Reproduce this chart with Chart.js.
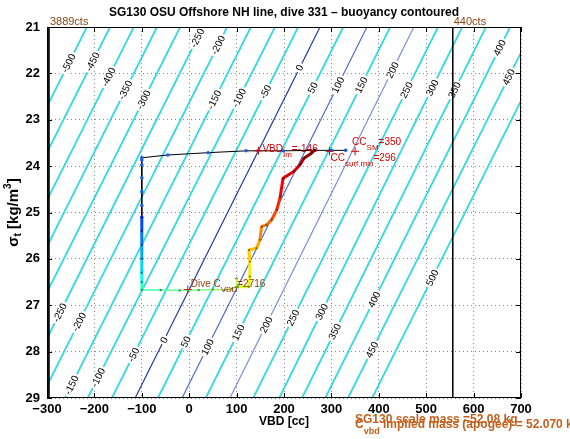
<!DOCTYPE html>
<html>
<head>
<meta charset="utf-8">
<title>SG130 dive 331 buoyancy</title>
<script src="https://cdn.jsdelivr.net/npm/chart.js@4.4.1/dist/chart.umd.min.js"></script>
<style>
  body { margin: 0; background: #fff; }
  canvas { display: block; }
</style>
</head>
<body>
<canvas id="buoyancyChart" width="570" height="439"></canvas>
<script>
// Buoyancy contour levels [g] and the VBD [cc] where each crosses sigma_t = 21 (top) and 29 (bottom)
const contourLevels = [-500, -450, -400, -350, -300, -250, -200, -150, -100, -50, 0, 50, 100, 150, 200, 250, 300, 350, 400, 450, 500];
const contourTopVbd = [-216, -167, -117, -68, -19, 29, 80, 130, 181, 230, 276, 325, 375, 424, 474, 525, 576, 626, 677, 727, 778];
const contourBottomVbd = [-608, -560, -509, -460, -412, -363, -313, -262, -214, -163, -114, -66, -15, 35, 86, 135, 190, 238, 287, 335, 386];
// sigma_t where each contour carries its label (upper row / lower row, null = no label)
const labelSigmaUpper = [21.78, 21.75, 22.08, 22.36, 22.57, 21.24, 21.39, 22.57, 22.53, 22.40, 21.88, 22.31, 22.25, 22.25, 21.93, 22.36, 22.31, 22.36, 21.45, 22.08, null];
const labelSigmaLower = [null, null, null, null, null, 27.16, 27.36, 28.72, 28.56, 28.07, 27.75, 27.79, 27.90, 27.59, 27.42, 27.27, 27.14, 27.57, 26.88, 27.96, 26.41];

// Surface and start of the descent (thin black line with blue dots)
const surfaceVbd = [330, 300, 265, 198, 145, 120, 40, -45, -100, -100, -100, -100, -100, -100, -100];
const surfaceSigma = [23.66, 23.66, 23.66, 23.67, 23.67, 23.67, 23.71, 23.76, 23.82, 23.87, 23.97, 24.25, 24.55, 24.85, 25.10];

// Rest of the dive, coloured by time
const diveVbd = [-100, -100, -100, -100, -100, -100, -100, -60, -20, 20, 50, 75, 90, 100, 100, 103, 126, 128, 128, 126, 142, 149, 153, 163, 174, 185, 192, 198, 220, 234, 242, 258, 265];
const diveSigma = [25.10, 25.40, 25.70, 26.00, 26.30, 26.50, 26.67, 26.67, 26.68, 26.67, 26.66, 26.67, 26.65, 26.60, 26.42, 26.60, 26.60, 26.38, 26.06, 25.81, 25.77, 25.59, 25.30, 25.27, 25.16, 24.94, 24.66, 24.26, 24.12, 23.97, 23.83, 23.72, 23.65];
const diveMinutes = [40, 48, 56, 64, 72, 80, 88, 92, 95, 98, 101, 104, 106, 108, 110, 112, 114, 118, 124, 130, 132, 136, 142, 144, 147, 152, 158, 166, 170, 174, 178, 182, 186];

// VBD pump limits
const vbdLimits = [-296, 556];
const vbdLimitLabels = ['3889cts', '440cts'];

// Marked points: VBD_Im, CC_SM, CC_surf min, Dive C_VBD
const markerVbd = [146, 350, 296, -3];
const markerSigma = [23.67, 23.68, 23.68, 26.66];

const FONT = '"Liberation Sans", Arial, Helvetica, sans-serif';
Chart.defaults.font.family = FONT;

function jet(t) {
    const c = v => Math.round(255 * Math.max(0, Math.min(1, v)));
    const r = c(Math.min(4 * t - 1.5, -4 * t + 4.5));
    const g = c(Math.min(4 * t - 0.5, -4 * t + 3.5));
    const b = c(Math.min(4 * t + 0.5, -4 * t + 2.5));
    return [r, g, b];
}
const m0 = diveMinutes[0], m1 = diveMinutes[diveMinutes.length - 1];
const diveRgb = diveMinutes.map(m => jet(0.15 + 0.85 * (m - m0) / (m1 - m0)));
const diveColors = diveRgb.map(c => `rgb(${c[0]},${c[1]},${c[2]})`);
const diveDots = diveRgb.map(c => `rgb(${c[0] * 0.6 | 0},${c[1] * 0.6 | 0},${c[2] * 0.6 | 0})`);

function contourColor(level) {
    if (level === 0) return '#1f3c9c';
    if (level === 100) return '#4d6bd4';
    if (level === 200) return '#7d8ce0';
    return '#33d8e2';
}

const datasets = [];
contourLevels.forEach((lev, i) => {
    datasets.push({
        data: [{ x: contourTopVbd[i], y: 21 }, { x: contourBottomVbd[i], y: 29 }],
        borderColor: contourColor(lev),
        borderWidth: (lev === 0 || lev === 100 || lev === 200) ? 1.2 : 1.8,
        pointRadius: 0,
        clip: 0,
        order: 10
    });
});
vbdLimits.forEach(v => {
    datasets.push({
        data: [{ x: v, y: 21 }, { x: v, y: 29 }],
        borderColor: '#000',
        borderWidth: 1,
        pointRadius: 0,
        clip: 0,
        order: 8
    });
});
datasets.push({
    data: surfaceVbd.map((v, i) => ({ x: v, y: surfaceSigma[i] })),
    borderColor: '#000',
    borderWidth: 1,
    pointRadius: 1.8,
    pointBackgroundColor: '#1d5be0',
    pointBorderWidth: 0,
    order: 3
});
datasets.push({
    data: diveVbd.map((v, i) => ({ x: v, y: diveSigma[i] })),
    borderColor: diveColors[0],
    borderWidth: 3,
    segment: {
        borderColor: c => diveColors[c.p1DataIndex],
        borderWidth: c => (c.p0DataIndex >= 6 && c.p0DataIndex < 15) ? 1.6 : 3
    },
    pointRadius: 1.2,
    pointBackgroundColor: diveDots,
    pointBorderWidth: 0,
    order: 2
});
datasets.push({
    data: markerVbd.map((v, i) => ({ x: v, y: markerSigma[i] })),
    showLine: false,
    pointStyle: 'cross',
    pointRadius: 4,
    borderColor: ['#d40000', '#d40000', '#d40000', '#c21a1a'],
    borderWidth: 1,
    order: 1
});

function rich(ctx, parts, x, y, color, align) {
    let total = 0;
    parts.forEach(p => { ctx.font = p.font; p.w = ctx.measureText(p.t).width; total += p.w; });
    let cx = align === 'center' ? x - total / 2 : x;
    ctx.fillStyle = color;
    ctx.textAlign = 'left';
    ctx.textBaseline = 'alphabetic';
    parts.forEach(p => { ctx.font = p.font; ctx.fillText(p.t, cx, y + (p.dy || 0)); cx += p.w; });
}

const overlay = {
    id: 'overlay',
    afterDatasetDraw(chart, args) {
        if (args.index !== 0) return;
        // contour labels, drawn right after the contour lines
        const { ctx, chartArea: a, scales: { x, y } } = chart;
        ctx.save();
        ctx.beginPath();
        ctx.rect(a.left, a.top, a.width, a.height);
        ctx.clip();
        ctx.font = '10px ' + FONT;
        ctx.textAlign = 'center';
        ctx.textBaseline = 'middle';
        contourLevels.forEach((lev, i) => {
            const x1 = x.getPixelForValue(contourTopVbd[i]), y1 = y.getPixelForValue(21);
            const x2 = x.getPixelForValue(contourBottomVbd[i]), y2 = y.getPixelForValue(29);
            const ang = Math.atan2(y1 - y2, x1 - x2);
            [labelSigmaUpper[i], labelSigmaLower[i]].forEach(s => {
                if (s == null) return;
                const f = (s - 21) / 8;
                const v = contourTopVbd[i] + f * (contourBottomVbd[i] - contourTopVbd[i]);
                const px = x.getPixelForValue(v), py = y.getPixelForValue(s);
                const txt = String(lev);
                const w = ctx.measureText(txt).width;
                ctx.save();
                ctx.translate(px, py);
                ctx.rotate(ang);
                ctx.fillStyle = '#fff';
                ctx.fillRect(-w / 2 - 2, -4, w + 4, 8);
                ctx.fillStyle = '#000';
                ctx.fillText(txt, 0, 0.5);
                ctx.restore();
            });
        });
        ctx.restore();
    },
    afterDraw(chart) {
        const { ctx, chartArea: a, scales: { x, y } } = chart;
        ctx.save();
        ctx.strokeStyle = '#000';
        ctx.lineWidth = 1;
        ctx.strokeRect(a.left + 0.5, a.top + 0.5, a.width - 1, a.height - 1);
        ctx.beginPath();
        for (let v = -300; v <= 700; v += 100) {
            const px = Math.round(x.getPixelForValue(v)) + 0.5;
            ctx.moveTo(px, a.bottom); ctx.lineTo(px, a.bottom - 5);
            ctx.moveTo(px, a.top); ctx.lineTo(px, a.top + 5);
        }
        for (let s = 21; s <= 29; s++) {
            const py = Math.round(y.getPixelForValue(s)) + 0.5;
            ctx.moveTo(a.left, py); ctx.lineTo(a.left + 5, py);
            ctx.moveTo(a.right, py); ctx.lineTo(a.right - 5, py);
        }
        ctx.stroke();

        // title and axis titles
        const cx = (a.left + a.right) / 2;
        rich(ctx, [{ t: 'SG130 OSU Offshore NH line, dive 331 \u2013 buoyancy contoured', font: 'bold 12px ' + FONT }], cx, 16, '#000', 'center');
        rich(ctx, [{ t: 'VBD [cc]', font: 'bold 12px ' + FONT }], cx, 425, '#000', 'center');
        ctx.save();
        ctx.translate(18, (a.top + a.bottom) / 2);
        ctx.rotate(-Math.PI / 2);
        rich(ctx, [
            { t: '\u03c3', font: 'bold 15px ' + FONT },
            { t: 't', font: 'bold 10px ' + FONT, dy: 3 },
            { t: ' [kg/m', font: 'bold 15px ' + FONT },
            { t: '3', font: 'bold 10px ' + FONT, dy: -7 },
            { t: ']', font: 'bold 15px ' + FONT }
        ], 0, 0, '#000', 'center');
        ctx.restore();

        // pump limit labels
        vbdLimits.forEach((v, i) => {
            rich(ctx, [{ t: vbdLimitLabels[i], font: '11px ' + FONT }], x.getPixelForValue(v) + 1, a.top - 2, '#8b4513', 'left');
        });

        // point annotations
        const mp = markerVbd.map((v, i) => [x.getPixelForValue(v), y.getPixelForValue(markerSigma[i])]);
        const red = '#d40000';
        const main = '10px ' + FONT, sub = '8px ' + FONT;
        rich(ctx, [{ t: 'VBD', font: main }, { t: 'Im', font: sub, dy: 5 }, { t: '=-146', font: main }], mp[0][0] + 4, mp[0][1] + 1, red, 'left');
        rich(ctx, [{ t: 'CC', font: main }, { t: 'SM', font: sub, dy: 5 }, { t: '=350', font: main }], mp[1][0] - 3, mp[1][1] - 6, red, 'left');
        rich(ctx, [{ t: 'CC', font: main }, { t: 'surf min', font: sub, dy: 5 }, { t: '=296', font: main }], mp[2][0] + 1, mp[2][1] + 10, red, 'left');
        rich(ctx, [{ t: 'Dive C', font: main }, { t: 'VBD', font: sub, dy: 5 }, { t: '=2716', font: main }], mp[3][0] + 3, mp[3][1] - 2, '#9a3b12', 'left');

        // mass notes under the axis
        rich(ctx, [{ t: 'SG130 scale mass =52.08 kg', font: 'bold 12px ' + FONT }], 355, 423, '#c0601c', 'left');
        rich(ctx, [{ t: 'C', font: 'bold 12px ' + FONT }, { t: 'vbd', font: 'bold 9px ' + FONT, dy: 6 }, { t: ' implied mass (apogee) = 52.070 kg', font: 'bold 12px ' + FONT }], 355, 428, '#c0601c', 'left');
        ctx.restore();
    }
};

const minusLabel = v => (v < 0 ? '\u2212' + (-v) : String(v));

new Chart(document.getElementById('buoyancyChart').getContext('2d'), {
    type: 'line',
    data: { datasets },
    options: {
        responsive: false,
        animation: false,
        layout: { padding: { top: 27, right: 49, left: 0, bottom: 0 } },
        plugins: { legend: { display: false }, tooltip: { enabled: false }, title: { display: false } },
        scales: {
            x: {
                type: 'linear', min: -300, max: 700,
                ticks: { stepSize: 100, autoSkip: false, maxRotation: 0, padding: 4, color: '#000', font: { size: 13, weight: 'bold' }, callback: minusLabel },
                grid: { color: '#8a8a8a', drawTicks: false, lineWidth: 1 },
                border: { display: false, dash: [1, 3] },
                afterFit: s => { s.height = 41; }
            },
            y: {
                type: 'linear', min: 21, max: 29, reverse: true,
                ticks: { stepSize: 1, autoSkip: false, padding: 7, color: '#000', font: { size: 13, weight: 'bold' } },
                grid: { color: '#8a8a8a', drawTicks: false, lineWidth: 1 },
                border: { display: false, dash: [1, 3] },
                afterFit: s => { s.width = 47; }
            }
        }
    },
    plugins: [overlay]
});
</script>
</body>
</html>
